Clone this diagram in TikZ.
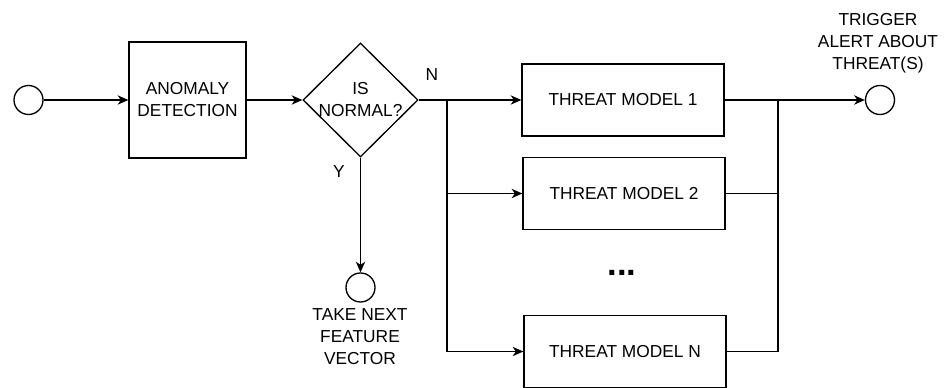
\documentclass[tikz,border=0pt]{standalone}
\usepackage{fontspec}
\setmainfont{Liberation Sans}
\usetikzlibrary{shapes.geometric,arrows.meta}
\begin{document}
\begin{tikzpicture}[x=0.75pt,y=-0.75pt,
  every node/.style={font=\fontsize{13pt}{16.5pt}\selectfont, inner sep=0pt, align=center},
  conn/.style={draw=black, line width=1pt},
  arr/.style={conn, -{Stealth[length=8pt,width=7pt,inset=2.4pt]}},
  endpt/.style={draw=black, line width=1pt, circle, minimum size=21.75pt},
  procbox/.style={draw=black, line width=1pt, rectangle},
  tmbox/.style={procbox, minimum width=151.5pt, minimum height=54pt},
  txt/.style={}]
\useasboundingbox (0,0) rectangle (949,388);
\node[endpt] (start) at (28.5,100) {};
\node[procbox, minimum width=87.75pt, minimum height=87pt] (ad) at (187.5,100) {ANOMALY\\DETECTION};
\node[draw=black, line width=1pt, diamond, minimum width=86.25pt, minimum height=85.5pt,
  label={[align=center]center:IS\\NORMAL?}] (dec) at (360.5,100) {};
\node[tmbox] (tm1) at (623,100) {THREAT MODEL 1};
\node[tmbox] (tm2) at (624,193.5) {THREAT MODEL 2};
\node[tmbox] (tmN) at (625,351.5) {THREAT MODEL N};
\node[font=\fontsize{26pt}{26pt}\selectfont\bfseries, anchor=base] (dots) at (622,276) {...};
\node[endpt] (end) at (880,100) {};
\node[endpt] (take) at (360.5,287.5) {};
\node[txt] (nlab) at (432,75) {N};
\node[txt] (ylab) at (339,172) {Y};
\node[txt] (trig) at (878,43) {TRIGGER\\ALERT ABOUT\\THREAT(S)};
\node[txt] (takelab) at (360,337) {TAKE NEXT\\FEATURE\\VECTOR};
\coordinate (j1) at (447,100);
\coordinate (j2) at (778,100);
\draw[arr] (start.east) -- (ad.west);
\draw[arr] (ad.east) -- (dec.west);
\draw[arr] (dec.east) -- (tm1.west);
\draw[arr] (j1) |- (tm2.west);
\draw[arr] (j1) |- (tmN.west);
\draw[arr] (dec.south) -- (take.north);
\draw[arr] (tm1.east) -- (end.west);
\draw[conn] (tm2.east) -| (j2);
\draw[conn] (tmN.east) -| (j2);
\end{tikzpicture}
\end{document}
